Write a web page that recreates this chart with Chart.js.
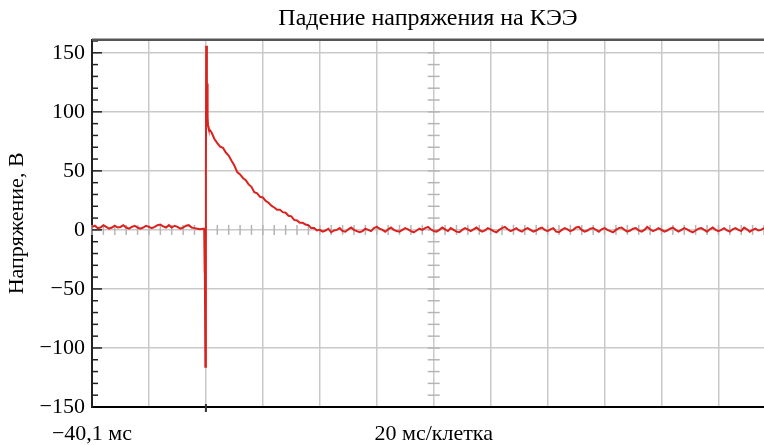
<!DOCTYPE html>
<html>
<head>
<meta charset="utf-8">
<script src="https://cdn.jsdelivr.net/npm/chart.js@4/dist/chart.umd.min.js"></script>
<style>
  body { margin: 0; background: #fff; }
</style>
</head>
<body>
<canvas id="scope" width="764" height="445"></canvas>
<script>
// sample times, ms (trigger at 0)
const timeMs = [
  -40,-39,-38,-37,-36,-35,-34,-33,-32,-31,-30,-29,-28,-27,-26,-25,-24,-23,-22,-21,
  -20,-19,-18,-17,-16,-15,-14,-13,-12,-11,-10,-9,-8,-7,-6,-5,-4,-3,-2,-1,
  -0.6,-0.5,-0.35,-0.2,0,0.1,0.35,0.5,0.6,0.75,0.9,
  1,2,3,4,5,6,7,8,9,10,11,12,13,14,15,16,17,18,19,20,
  21,22,23,24,25,26,27,28,29,30,31,32,33,34,35,36,37,38,39,
  40,41,42,43,44,45,46,47,48,49,50,51,52,53,54,55,56,57,58,59,
  60,61,62,63,64,65,66,67,68,69,70,71,72,73,74,75,76,77,78,79,
  80,81,82,83,84,85,86,87,88,89,90,91,92,93,94,95,96,97,98,99,
  100,101,102,103,104,105,106,107,108,109,110,111,112,113,114,115,116,117,118,119,
  120,121,122,123,124,125,126,127,128,129,130,131,132,133,134,135,136,137,138,139,
  140,141,142,143,144,145,146,147,148,149,150,151,152,153,154,155,156,157,158,159,
  160,161,162,163,164,165,166,167,168,169,170,171,172,173,174,175,176,177,178,179,
  180,181,182,183,184,185,186,187,188,189,190,191,192,193,194,195,196
];

// voltage on the element, V
const voltage = [
  2.5,3.5,1.5,2,4,2.5,1,2,3.5,2,2.5,4,2,1,2.5,3.5,2,1,2,3.5,
  2.5,1.5,2.5,4,4.5,3,2,4,2,3.5,2.5,1,2,3.5,4,2,1.5,1,0.5,1,
  1,-36,-3,-116,47,156,90,124,96,88,87,
  86,82.5,77,73.5,70.5,69.5,65.5,63,58.5,54.5,49,47,44,42,38.5,36.5,32,31,28,27.5,
  24.5,23,20.5,19,17,17,15,14.5,12,11.5,8.5,8,6,6,4.5,4,1.5,1.5,-0.5,
  0,-1.5,-0.5,1,-2,-0.5,0,1.5,-1,-1.5,0.5,2,0,-1,-2,-1,1,0,-1,1.5,
  2.5,1,0,-1.5,0.5,2,0,-1,-1.5,0,1.5,0.5,-1,-2,-0.5,1,0,1.5,2.5,0.5,
  -1,-1.5,0,2,0.5,-1,1.5,0,-1.5,-2,0,1.5,0.5,-1,0.5,2,0,-1.5,-0.5,1.5,
  0.5,-1,-2,0,1.5,2.5,0.5,-1,0,1.5,-0.5,-1.5,0.5,1.5,0,-1.5,-0.5,1,2,0,
  -1,0.5,1.5,-1.5,-2,0,1.5,0.5,-1,0,2,2.5,0,-1.5,-0.5,1,1.5,0,-1.5,0.5,
  1.5,0,-1,-2,0,1.5,2,0,-1.5,-0.5,1,1.5,-0.5,-1.5,0,2.5,0.5,-1,0,1.5,
  0,-1.5,-0.5,1,2,0,-1.5,0,1.5,0.5,-1,-2,-0.5,1,1.5,0,-1.5,0.5,2,0,
  -1,0,1.5,-0.5,-1.5,0.5,1.5,0,-1,2,0.5,-1.5,0,1,-0.5,0,1.5
];

const xGrid = [-40,-20,0,20,40,60,80,100,120,140,160,180];
const xLabels = { '-40': '\u221240,1 мс', '80': '20 мс/клетка' };
const yTicks = [-150,-100,-50,0,50,100,150];

const serif = "'Liberation Serif', 'Times New Roman', serif";
const gridGray = '#c9c9c9';

// oscilloscope decorations: crosshair minor ticks, left-axis marks, top frame, trigger mark
const scopeMarks = {
  id: 'scopeMarks',
  beforeDatasetsDraw(chart) {
    const {ctx, chartArea: a, scales: {x, y}} = chart;
    ctx.save();
    ctx.strokeStyle = '#b5b5b5';
    ctx.lineWidth = 1.5;
    const y0 = y.getPixelForValue(0);
    for (let t = -40; t <= x.max; t += 4) {
      const px = x.getPixelForValue(t);
      ctx.beginPath(); ctx.moveTo(px, y0 - 5); ctx.lineTo(px, y0 + 5); ctx.stroke();
    }
    const xc = x.getPixelForValue(80);
    for (let v = -140; v <= 150; v += 10) {
      const py = y.getPixelForValue(v);
      ctx.beginPath(); ctx.moveTo(xc - 6, py); ctx.lineTo(xc + 6, py); ctx.stroke();
    }
    ctx.strokeStyle = '#222';
    for (let v = -140; v <= y.max; v += 10) {
      const py = y.getPixelForValue(v);
      const len = v % 50 === 0 ? 10 : 6;
      ctx.beginPath(); ctx.moveTo(a.left, py); ctx.lineTo(a.left + len, py); ctx.stroke();
    }
    ctx.restore();
  },
  afterDraw(chart) {
    const {ctx, chartArea: a, scales: {x}} = chart;
    ctx.save();
    ctx.strokeStyle = '#555';
    ctx.lineWidth = 2.5;
    ctx.beginPath(); ctx.moveTo(a.left, a.top); ctx.lineTo(a.right, a.top); ctx.stroke();
    const tx = x.getPixelForValue(0);
    ctx.strokeStyle = '#333';
    ctx.lineWidth = 2;
    ctx.beginPath(); ctx.moveTo(tx, a.bottom - 3); ctx.lineTo(tx, a.bottom + 5); ctx.stroke();
    ctx.restore();
  }
};

new Chart(document.getElementById('scope'), {
  type: 'line',
  data: {
    datasets: [{
      data: timeMs.map((t, i) => ({ x: t, y: voltage[i] })),
      borderColor: '#dc221e',
      borderWidth: 2,
      pointRadius: 0,
      tension: 0
    }]
  },
  options: {
    responsive: false,
    animation: false,
    layout: { padding: 0 },
    plugins: {
      legend: { display: false },
      tooltip: { enabled: false },
      title: {
        display: true,
        fullSize: false,
        text: 'Падение напряжения на КЭЭ',
        color: '#000',
        font: { family: serif, size: 24, weight: 'normal' },
        padding: { top: 4, bottom: 7 }
      }
    },
    scales: {
      x: {
        type: 'linear',
        min: -40,
        max: 196,
        afterBuildTicks: s => { s.ticks = xGrid.map(v => ({ value: v })); },
        afterFit: s => { s.height = 38; },
        grid: { color: gridGray, lineWidth: 1.5, drawTicks: false },
        border: { color: '#000', width: 2 },
        ticks: {
          autoSkip: false,
          maxRotation: 0,
          padding: 14,
          color: '#000',
          font: { family: serif, size: 22 },
          callback: v => xLabels[String(v)] || ''
        }
      },
      y: {
        min: -150,
        max: 161,
        afterBuildTicks: s => { s.ticks = yTicks.map(v => ({ value: v })); },
        afterFit: s => { s.width = 92; },
        grid: { color: gridGray, lineWidth: 1.5, drawTicks: false },
        border: { color: '#222', width: 2 },
        ticks: {
          padding: 7,
          color: '#000',
          font: { family: serif, size: 22 },
          callback: v => (v < 0 ? '\u2212' + Math.abs(v) : String(v))
        },
        title: {
          display: true,
          text: 'Напряжение, В',
          color: '#000',
          font: { family: serif, size: 22 },
          padding: { top: 4, bottom: 0 }
        }
      }
    }
  },
  plugins: [scopeMarks]
});
</script>
</body>
</html>
